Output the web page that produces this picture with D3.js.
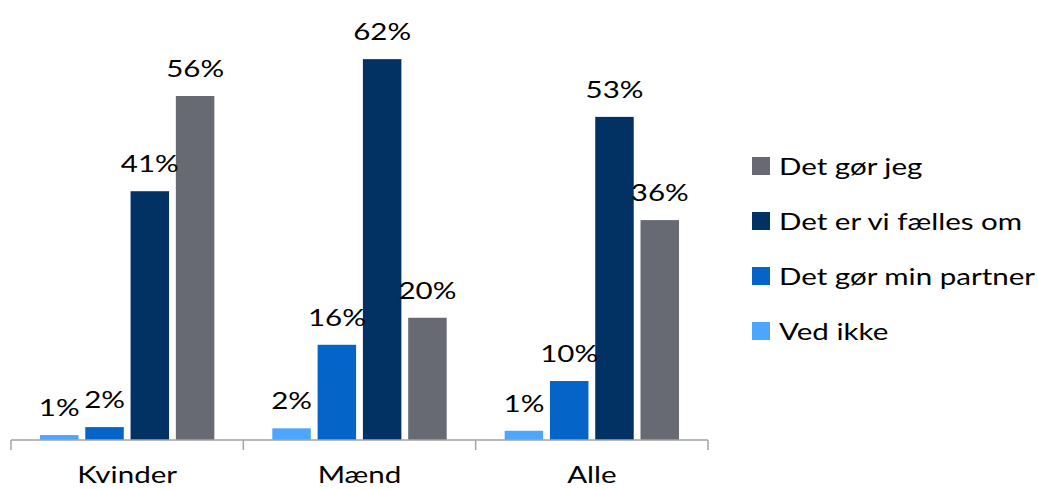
<!DOCTYPE html>
<html>
<head>
<meta charset="utf-8">
<script src="https://cdn.jsdelivr.net/npm/d3@7"></script>
<style>
  body { margin: 0; background: #fff; }
  text { font-family: Lato, "Open Sans", sans-serif; fill: #000; }
</style>
</head>
<body>
<div id="chart"></div>
<script>
// groups on the x axis
const groups = ["Kvinder", "Mænd", "Alle"];
// series, in bar order (left to right inside a group)
const seriesNames = ["Ved ikke", "Det gør min partner", "Det er vi fælles om", "Det gør jeg"];
const seriesColors = ["#4da6fb", "#0564c8", "#023264", "#676a73"];
// values per series, one per group (percent)
const vedIkke = [0.8, 1.9, 1.5];
const minPartner = [2.1, 15.5, 9.6];
const faelles = [40.5, 62.0, 52.6];
const gorJeg = [56.0, 19.9, 35.8];
// printed labels
const vedIkkeLbl = ["1%", "2%", "1%"];
const minPartnerLbl = ["2%", "16%", "10%"];
const faellesLbl = ["41%", "62%", "53%"];
const gorJegLbl = ["56%", "20%", "36%"];

const values = [vedIkke, minPartner, faelles, gorJeg];
const labels = [vedIkkeLbl, minPartnerLbl, faellesLbl, gorJegLbl];

const width = 1038, height = 489;
const fs = 24;
const sx = 1.23; // the picture's text is a bit wider than the font

const svg = d3.select('#chart').append('svg')
  .attr('width', width)
  .attr('height', height);

const x0 = d3.scaleBand().domain(groups).range([11, 708]);
const x1 = d3.scaleBand().domain(d3.range(4))
  .range([0, x0.bandwidth()])
  .paddingInner(0.15)
  .paddingOuter(0.64);
const y = d3.scaleLinear().domain([0, 70]).range([440, 10]);

// flatten into bar records
const bars = [];
groups.forEach((g, gi) => {
  values.forEach((s, si) => {
    bars.push({ g: g, si: si, v: s[gi], lbl: labels[si][gi] });
  });
});

svg.append('g').selectAll('rect')
  .data(bars)
  .enter().append('rect')
  .attr('x', d => x0(d.g) + x1(d.si))
  .attr('y', d => y(d.v))
  .attr('width', x1.bandwidth())
  .attr('height', d => y(0) - y(d.v))
  .attr('fill', d => seriesColors[d.si]);

// data labels
svg.append('g').selectAll('text')
  .data(bars)
  .enter().append('text')
  .attr('text-anchor', 'middle')
  .attr('font-size', fs)
  .attr('transform', d => `translate(${x0(d.g) + x1(d.si) + x1.bandwidth() / 2},${y(d.v) - 19}) scale(${sx},1)`)
  .text(d => d.lbl);

// axis line and ticks
const axis = svg.append('g');
axis.append('line')
  .attr('x1', x0.range()[0]).attr('x2', x0.range()[1])
  .attr('y1', y(0)).attr('y2', y(0))
  .attr('stroke', '#a3a3a3').attr('stroke-width', 1.5);
const tickPos = groups.map(g => x0(g)).concat([x0.range()[1]]);
axis.selectAll('.tick')
  .data(tickPos)
  .enter().append('line')
  .attr('class', 'tick')
  .attr('x1', d => d).attr('x2', d => d)
  .attr('y1', y(0)).attr('y2', y(0) + 10)
  .attr('stroke', '#a3a3a3').attr('stroke-width', 1.5);
axis.selectAll('.glabel')
  .data(groups)
  .enter().append('text')
  .attr('class', 'glabel')
  .attr('text-anchor', 'middle')
  .attr('font-size', fs)
  .attr('transform', d => `translate(${x0(d) + x0.bandwidth() / 2},483) scale(${sx},1)`)
  .text(d => d);

// legend, reversed order
const legendOrder = d3.range(4).reverse();
const legend = svg.append('g').selectAll('g')
  .data(legendOrder)
  .enter().append('g')
  .attr('transform', (d, i) => `translate(752,${157 + i * 55})`);
legend.append('rect')
  .attr('width', 18).attr('height', 18)
  .attr('fill', d => seriesColors[d]);
legend.append('text')
  .attr('font-size', fs)
  .attr('transform', `translate(27,18) scale(${sx},1)`)
  .text(d => seriesNames[d]);
</script>
</body>
</html>
